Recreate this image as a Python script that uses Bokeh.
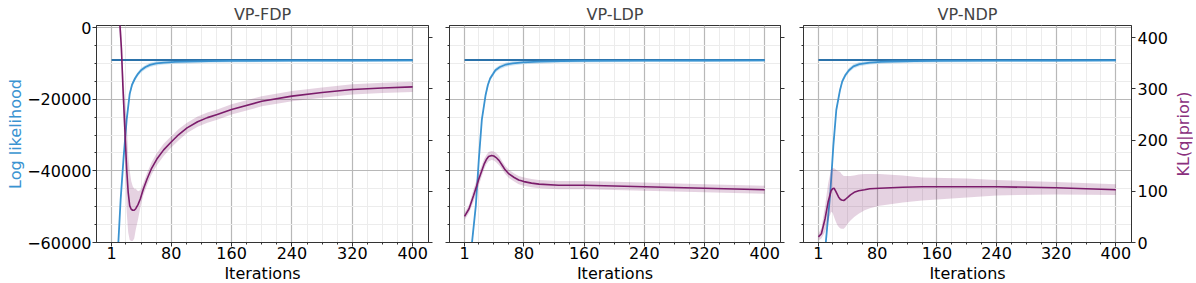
from bokeh.plotting import figure
from bokeh.layouts import row
from bokeh.models import Range1d, LinearAxis, FixedTicker, CustomJSTickFormatter, Title
from bokeh.embed import file_html
from bokeh.resources import INLINE

# ---------------- data ----------------
titles = ["VP-FDP", "VP-LDP", "VP-NDP"]
x_ticks = [1, 80, 160, 240, 320, 400]
x_minor = [20, 40, 60, 100, 120, 140, 180, 200, 220, 260, 280, 300, 340, 360, 380]
ll_ticks = [-60000, -40000, -20000, 0]
ll_minor = [-55000, -50000, -45000, -35000, -30000, -25000, -15000, -10000, -5000]
kl_ticks = [0, 100, 200, 300, 400]
ll_true = -9050

# log likelihood (blue) per panel
ll_it_1 = [1, 10, 13, 17, 21, 25, 28, 32, 36, 40, 46, 52, 60, 70, 85, 100, 130, 160, 240, 320, 400]
ll_mu_1 = [-130000, -59800, -48000, -36000, -25700, -18500, -16000, -14200, -12900, -11900, -11000, -10400, -10000, -9750, -9580, -9480, -9370, -9300, -9220, -9180, -9150]
ll_sd_1 = [900, 900, 800, 800, 700, 700, 700, 600, 600, 600, 600, 600, 600, 550, 500, 500, 450, 420, 400, 400, 400]

ll_it_2 = [1, 11, 16, 20, 24, 29, 32, 35, 39, 42, 48, 56, 65, 78, 100, 130, 160, 240, 320, 400]
ll_mu_2 = [-130000, -59800, -49700, -36800, -25700, -18800, -16000, -14200, -12900, -11900, -11000, -10300, -9950, -9700, -9480, -9370, -9300, -9220, -9180, -9150]
ll_sd_2 = [900, 900, 800, 800, 700, 700, 700, 600, 600, 600, 600, 600, 600, 550, 500, 450, 420, 400, 400, 400]

ll_it_3 = [1, 11, 17, 21, 25, 30, 33, 37, 42, 48, 56, 70, 85, 100, 130, 160, 240, 320, 400]
ll_mu_3 = [-130000, -59800, -46000, -33100, -23000, -17400, -15000, -13300, -11900, -10800, -10200, -9770, -9580, -9450, -9350, -9300, -9220, -9180, -9150]
ll_sd_3 = [900, 900, 800, 800, 700, 700, 700, 600, 600, 600, 600, 550, 500, 500, 450, 420, 400, 400, 400]

# KL(q|prior) (purple) per panel
kl_it_1 = [1, 6, 11, 14, 16, 19, 21, 23, 25, 27, 29, 31, 33, 36, 39, 43, 48, 54, 61, 70, 79, 90, 101, 115, 128, 141, 160, 200, 240, 280, 320, 360, 400]
kl_mu_1 = [900, 650, 450, 380, 305, 208, 143, 98, 72, 65, 63, 63, 66, 74, 85, 104, 124, 145, 163, 181, 195, 211, 224, 236, 244, 250, 260, 276, 286, 293, 299, 302, 304]
kl_lo_1 = [850, 610, 420, 350, 270, 150, 60, 20, 5, 3, 3, 8, 25, 45, 68, 92, 112, 133, 151, 169, 184, 200, 214, 226, 234, 240, 250, 266, 276, 283, 289, 292, 294]
kl_hi_1 = [950, 690, 480, 410, 340, 270, 240, 170, 140, 120, 110, 105, 105, 100, 102, 116, 136, 157, 175, 193, 206, 222, 234, 246, 254, 260, 270, 286, 296, 303, 309, 312, 314]

kl_it_2 = [1, 7, 13, 20, 27, 30, 33, 37, 40, 43, 47, 51, 55, 60, 67, 73, 80, 90, 100, 126, 160, 240, 320, 400]
kl_mu_2 = [51, 66, 92, 124, 153, 162, 168, 170, 169, 166, 160, 151, 142, 134, 127, 122, 119, 116, 114, 112, 112, 109, 106, 103]
kl_lo_2 = [44, 58, 80, 112, 143, 153, 159, 161, 160, 157, 151, 143, 134, 126, 119, 114, 111, 108, 106, 104, 104, 101, 98, 95]
kl_hi_2 = [58, 74, 104, 136, 163, 171, 177, 179, 178, 175, 169, 159, 150, 142, 135, 130, 127, 124, 122, 120, 120, 117, 114, 111]

kl_it_3 = [1, 5, 10, 14, 18, 20, 22, 24, 26, 28, 30, 32, 35, 37, 41, 44, 49, 55, 63, 70, 83, 114, 140, 200, 240, 320, 400]
kl_mu_3 = [11, 17, 47, 79, 101, 105, 106, 101, 95, 89, 85, 83, 82, 84, 89, 93, 98, 101, 103, 105, 106, 108, 109, 109, 109, 107, 103]
kl_lo_3 = [4, 8, 21, 40, 60, 58, 50, 42, 35, 31, 28, 27, 27, 30, 38, 43, 50, 56, 63, 67, 72, 78, 82, 88, 92, 94, 93]
kl_hi_3 = [17, 28, 72, 115, 143, 145, 145, 143, 140, 139, 138, 134, 130, 130, 130, 130, 131, 133, 134, 134, 134, 131, 127, 125, 122, 118, 114]

panels = [
    (ll_it_1, ll_mu_1, ll_sd_1, kl_it_1, kl_mu_1, kl_lo_1, kl_hi_1),
    (ll_it_2, ll_mu_2, ll_sd_2, kl_it_2, kl_mu_2, kl_lo_2, kl_hi_2),
    (ll_it_3, ll_mu_3, ll_sd_3, kl_it_3, kl_mu_3, kl_lo_3, kl_hi_3),
]

# ---------------- style ----------------
FONT = "DejaVu Sans"
BLUE = "#3a93d1"
BLUE_TRUE = "#2b72aa"
PURPLE = "#7b1c6b"
PURPLE_LBL = "#8a2f7d"
AXC = "#333333"
H = 283
TOP = 25
BOTTOM = 41

widths = [438, 353, 380]
borders_l = [96, 11, 12]
borders_r = [10, 11, 38]

neg_fmt = CustomJSTickFormatter(code="return tick < 0 ? '\u2212' + Math.abs(tick).toFixed(0) : tick.toFixed(0);")
blank_fmt = CustomJSTickFormatter(code="return '';")


def style_text(ax):
    ax.major_label_text_font = FONT
    ax.major_label_text_font_size = "16px"
    ax.major_label_text_color = "black"


def side_title(text, color):
    return Title(text=text, align="center", text_font=FONT, text_font_size="16px",
                 text_font_style="normal", text_color=color, standoff=0)


figs = []
for i in range(3):
    ll_it, ll_mu, ll_sd, kl_it, kl_mu, kl_lo, kl_hi = panels[i]
    p = figure(width=widths[i], height=H, output_backend="svg", toolbar_location=None,
               x_range=Range1d(-19, 421), y_range=Range1d(-60000, 600),
               min_border_left=borders_l[i], min_border_right=borders_r[i],
               min_border_top=TOP, min_border_bottom=BOTTOM, title=titles[i])
    p.extra_y_ranges = {"kl": Range1d(0, 424)}
    p.title.text_font = FONT
    p.title.text_font_size = "16px"
    p.title.text_font_style = "normal"
    p.title.align = "center"
    p.title.standoff = 4
    p.outline_line_color = AXC
    p.outline_line_alpha = 1
    p.background_fill_color = "white"
    p.border_fill_color = "white"

    # x axis
    xa = p.xaxis[0]
    xa.ticker = FixedTicker(ticks=x_ticks, minor_ticks=x_minor)
    style_text(xa)
    xa.major_label_standoff = 0

    # left y axis
    ya = p.yaxis[0]
    ya.ticker = FixedTicker(ticks=ll_ticks, minor_ticks=ll_minor)
    style_text(ya)
    if i == 0:
        ya.formatter = neg_fmt
        ya.major_label_standoff = 1
    else:
        ya.formatter = blank_fmt
        ya.major_label_standoff = -30

    # right axis
    ra = LinearAxis(y_range_name="kl", ticker=FixedTicker(ticks=kl_ticks))
    style_text(ra)
    if i == 2:
        ra.major_label_standoff = 2
    else:
        ra.formatter = blank_fmt
        ra.major_label_standoff = -30
    p.add_layout(ra, "right")

    for ax in [xa, ya, ra]:
        ax.axis_line_color = AXC
        ax.major_tick_line_color = AXC
        ax.minor_tick_line_color = AXC
        ax.major_tick_out = 4
        ax.major_tick_in = 0
        ax.minor_tick_out = 2
        ax.minor_tick_in = 0
    ra.minor_tick_line_color = None

    # grids
    p.xgrid.grid_line_color = "#b8b8b8"
    p.xgrid.grid_line_width = 1.2
    p.xgrid.minor_grid_line_color = "#ececec"
    p.ygrid.grid_line_color = "#b8b8b8"
    p.ygrid.grid_line_width = 1.2
    p.ygrid.minor_grid_line_color = "#ececec"

    # blue: log likelihood band + curve + true line
    lo = [m - s for m, s in zip(ll_mu, ll_sd)]
    hi = [m + s for m, s in zip(ll_mu, ll_sd)]
    p.varea(x=ll_it, y1=lo, y2=hi, fill_color=BLUE, fill_alpha=0.25)
    p.line(x=[1, 400], y=[ll_true, ll_true], line_color=BLUE_TRUE, line_width=2)
    p.line(x=ll_it, y=ll_mu, line_color=BLUE, line_width=1.8)

    # purple: KL band + curve
    p.varea(x=kl_it, y1=kl_lo, y2=kl_hi, fill_color=PURPLE, fill_alpha=0.2, y_range_name="kl")
    p.line(x=kl_it, y=kl_mu, line_color=PURPLE, line_width=1.6, y_range_name="kl")

    # axis titles
    p.add_layout(side_title("Iterations", "black"), "below")
    if i == 0:
        p.add_layout(side_title("Log likelihood", BLUE), "left")

    figs.append(p)

# narrow holder for the right-hand axis title (reads bottom-to-top like the left one)
k = figure(width=22, height=H, output_backend="svg", toolbar_location=None,
           x_axis_location=None, y_axis_location=None,
           min_border_left=0, min_border_right=0, min_border_top=TOP, min_border_bottom=BOTTOM)
k.outline_line_color = None
k.grid.visible = False
k.background_fill_color = "white"
k.border_fill_color = "white"
k.add_layout(side_title("KL(q|prior)", PURPLE_LBL), "left")
figs.append(k)

layout = row(*figs)
open("out.html", "w").write(file_html(layout, INLINE))
